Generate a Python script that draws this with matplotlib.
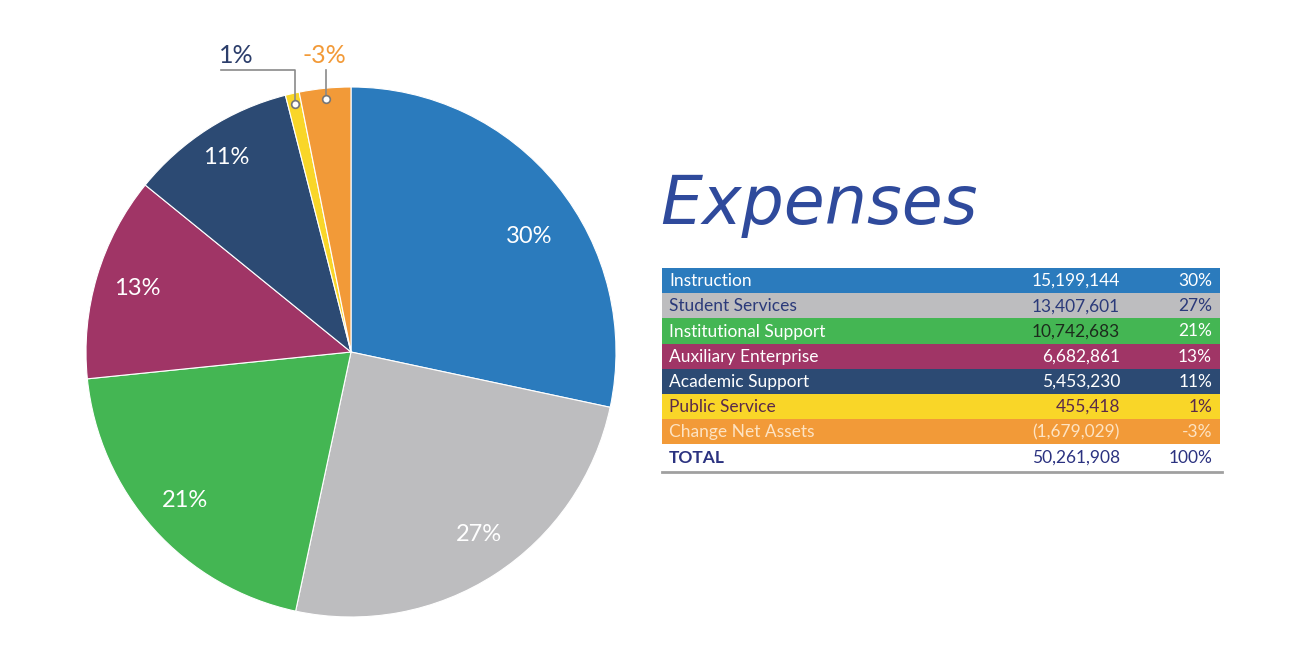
import matplotlib
matplotlib.use("Agg")
import numpy as np
import matplotlib.pyplot as plt
from matplotlib.patches import Rectangle

# data
categories = ["Instruction", "Student Services", "Institutional Support",
              "Auxiliary Enterprise", "Academic Support", "Public Service",
              "Change Net Assets"]
amounts = [15199144, 13407601, 10742683, 6682861, 5453230, 455418, -1679029]
pct_labels = ["30%", "27%", "21%", "13%", "11%", "1%", "-3%"]
amount_labels = ["15,199,144", "13,407,601", "10,742,683", "6,682,861",
                 "5,453,230", "455,418", "(1,679,029)"]
total_label = "50,261,908"
total_pct = "100%"

colors = ["#2b7bbd", "#bdbdbf", "#44b653", "#a03566", "#2c4a73", "#f9d628", "#f29a38"]
label_colors = ["white", "#2b3a7a", "white", "white", "white", "#5a2a4a", "#fde3c3"]
num_colors = ["white", "#2b3a7a", "#1c2b1c", "white", "white", "#5a2a4a", "#fde3c3"]
navy = "#2b3280"

W, H = 1300, 663
fig = plt.figure(figsize=(13, 6.63), dpi=100)
fig.patch.set_facecolor("white")

# pie axes, placed in pixels: center (351, 352), radius 265
cx, cy, r = 351, 352, 265
ax = fig.add_axes([(cx - r) / W, (H - cy - r) / H, 2 * r / W, 2 * r / H])

sizes = np.abs(amounts)
wedges, _ = ax.pie(sizes, colors=colors, startangle=90, counterclock=False,
                   radius=1, wedgeprops=dict(edgecolor="white", linewidth=0.8))
ax.set_xlim(-1, 1)
ax.set_ylim(-1, 1)
ax.set_aspect("equal")
ax.axis("off")

font = "Lato"
# label distance / angular nudge (deg) per big slice
dist = [0.80, 0.84, 0.84, 0.84, 0.87]
nudge = [-6, 2, 0, 0, 0]
for i, w in enumerate(wedges[:5]):
    mid = np.deg2rad((w.theta1 + w.theta2) / 2 + nudge[i])
    ax.text(dist[i] * np.cos(mid), dist[i] * np.sin(mid), pct_labels[i],
            color="white", fontsize=17, ha="center", va="center", family=font)

# callouts for the two thin slices
for i, (dx_text, col) in zip([5, 6], [(-0.434, "#2c3e6b"), (-0.10, "#f29a38")]):
    w = wedges[i]
    mid = np.deg2rad((w.theta1 + w.theta2) / 2)
    px, py = 0.96 * np.cos(mid), 0.96 * np.sin(mid)
    top = 1.064
    if i == 5:
        xs, ys = [px, px, -0.49], [py, top, top]
    else:
        xs, ys = [px, px], [py, top]
    ax.plot(xs, ys, color="#8a8a8a", lw=1.2, clip_on=False, zorder=4)
    ax.plot(px, py, "o", ms=5.5, mfc="white", mec="#777777", mew=1.2,
            clip_on=False, zorder=5)
    ax.text(dx_text, 1.12, pct_labels[i], color=col, fontsize=18,
            ha="center", va="center", family=font, clip_on=False)

# overlay axes in pixel coordinates for title and table
ov = fig.add_axes([0, 0, 1, 1])
ov.set_xlim(0, W)
ov.set_ylim(H, 0)
ov.axis("off")
ov.patch.set_alpha(0)

ov.text(660, 205, "Expenses", color="#2f4a9c", fontsize=48, style="italic",
        family="DejaVu Sans", ha="left", va="center")

x0, x1 = 662, 1220
row_top, row_h = 268, 25.2
for i, cat in enumerate(categories):
    y = row_top + i * row_h
    ov.add_patch(Rectangle((x0, y), x1 - x0, row_h, facecolor=colors[i],
                           edgecolor="none"))
    yc = y + row_h / 2 + 0.5
    ov.text(669, yc, cat, color=label_colors[i], fontsize=12.5, family=font,
            ha="left", va="center")
    ov.text(1120, yc, amount_labels[i], color=num_colors[i], fontsize=12.5,
            family=font, ha="right", va="center")
    ov.text(1212, yc, pct_labels[i], color=label_colors[i], fontsize=12.5,
            family=font, ha="right", va="center")

yt = row_top + len(categories) * row_h + row_h / 2 + 1
ov.text(669, yt, "TOTAL", color=navy, fontsize=12.5, family=font,
        fontweight="bold", ha="left", va="center")
ov.text(1120, yt, total_label, color=navy, fontsize=12.5, family=font,
        ha="right", va="center")
ov.text(1212, yt, total_pct, color=navy, fontsize=12.5, family=font,
        ha="right", va="center")
ov.plot([x0, 1222], [472, 472], color="#a0a0a0", lw=2)

fig.savefig("out.png", dpi=100, facecolor="white")
